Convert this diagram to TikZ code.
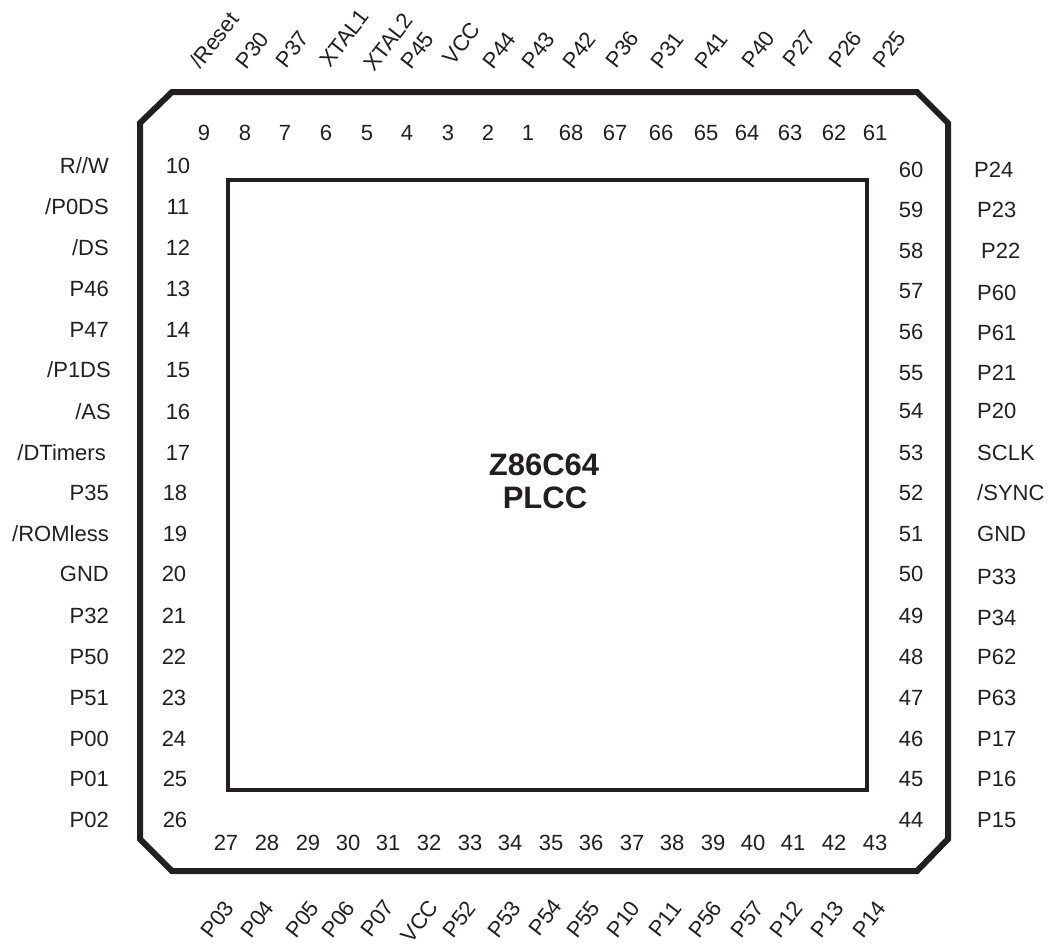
\documentclass[tikz,border=0pt]{standalone}
\usepackage{fontspec}
\setmainfont{Liberation Sans}
\definecolor{ink}{HTML}{231F20}
\tikzset{
  pinnum/.style={inner sep=0pt,text=ink,font=\fontsize{22}{24}\selectfont,text height=16pt,text depth=0pt,anchor=center},
  pinname/.style={pinnum},
  diagname/.style={pinnum,rotate=52},
  title/.style={inner sep=0pt,text=ink,font=\fontsize{31}{33}\selectfont\bfseries,text height=22pt,text depth=0pt},
  outerline/.style={draw=ink,line width=6pt,line join=miter},
  innerline/.style={draw=ink,line width=4pt,line join=miter}
}
\begin{document}
\begin{tikzpicture}[x=1pt,y=-1pt]
\useasboundingbox (0,0) rectangle (1050,946);
\coordinate (o1) at (172,92);
\coordinate (o2) at (917,92);
\coordinate (o3) at (948,123);
\coordinate (o4) at (948,839);
\coordinate (o5) at (917,871);
\coordinate (o6) at (172,871);
\coordinate (o7) at (140,839);
\coordinate (o8) at (140,123);
\draw[outerline] (o1) -- (o2) -- (o3) -- (o4) -- (o5) -- (o6) -- (o7) -- (o8) -- cycle;
\coordinate (i1) at (228,180);
\coordinate (i2) at (867,180);
\coordinate (i3) at (867,790);
\coordinate (i4) at (228,790);
\draw[innerline] (i1) -- (i2) -- (i3) -- (i4) -- cycle;
\node[title] (chip) at (544,464) {Z86C64};
\node[title] (pkg) at (545,497) {PLCC};
% top side
\foreach \n/\x/\lx/\ly/\t in {
 9/204/214/40/{/Reset},8/245/252/50/P30,7/285/292/49/P37,6/326/344/38/XTAL1,5/367/388/42/XTAL2,
 4/407/417/50/P45,3/448/461/43/VCC,2/488/499/50/P44,1/528/538/50/P43,68/571/579/50/P42,
 67/615/622/49/P36,66/661/667/50/P31,65/706/711/50/P41,64/747/758/49/P40,63/790/799/48/P27,
 62/834/845/49/P26,61/875/889/49/P25}{
  \node[pinnum] (n\n) at (\x,132) {\n};
  \node[diagname] (l\n) at (\lx,\ly) {\t};
}
% bottom side
\foreach \n/\x/\lx/\ly/\t in {
 27/226/217/919/P03,28/267/257/919/P04,29/308/302/919/P05,30/348/338/919/P06,31/388/377/918/P07,
 32/429/419/921/VCC,33/470/459/919/P52,34/510/504/919/P53,35/551/545/917/P54,36/591/583/919/P55,
 37/632/623/919/P10,38/672/665/919/P11,39/713/705/919/P56,40/753/747/919/P57,41/793/786/919/P12,
 42/834/827/919/P13,43/875/869/919/P14}{
  \node[pinnum] (n\n) at (\x,842) {\n};
  \node[diagname] (l\n) at (\lx,\ly) {\t};
}
% left side
\foreach \n/\x/\y/\lx/\t in {
 10/178/165/109/{R//W},11/178/206/109/{/P0DS},12/178/247/109/{/DS},13/178/288/109/P46,14/178/329/109/P47,15/178/369/111/{/P1DS},
 16/178/411/111/{/AS},17/178/452/106/{/DTimers},18/175/492/109/P35,19/175/533/109/{/ROMless},20/174/573/109/GND,
 21/174/615/109/P32,22/174/656/109/P50,23/174/697/109/P51,24/174/738/109/P00,25/175/778/109/P01,26/175/819/109/P02}{
  \node[pinnum] (n\n) at (\x,\y) {\n};
  \node[pinname,anchor=east] (l\n) at (\lx,\y) {\t};
}
% right side
\foreach \n/\y/\ny/\lx/\t in {
 60/169/169/974/P24,59/209/209/977/P23,58/250/250/981/P22,57/290/292/977/P60,56/331/332/977/P61,55/372/372/977/P21,
 54/410/410/977/P20,53/452/452/977/SCLK,52/492/492/977/{/SYNC},51/533/533/977/GND,50/573/576/977/P33,49/615/617/977/P34,
 48/656/656/977/P62,47/697/697/977/P63,46/738/738/977/P17,45/778/778/977/P16,44/819/819/977/P15}{
  \node[pinnum] (n\n) at (911,\y) {\n};
  \node[pinname,anchor=west] (l\n) at (\lx,\ny) {\t};
}
\end{tikzpicture}
\end{document}
